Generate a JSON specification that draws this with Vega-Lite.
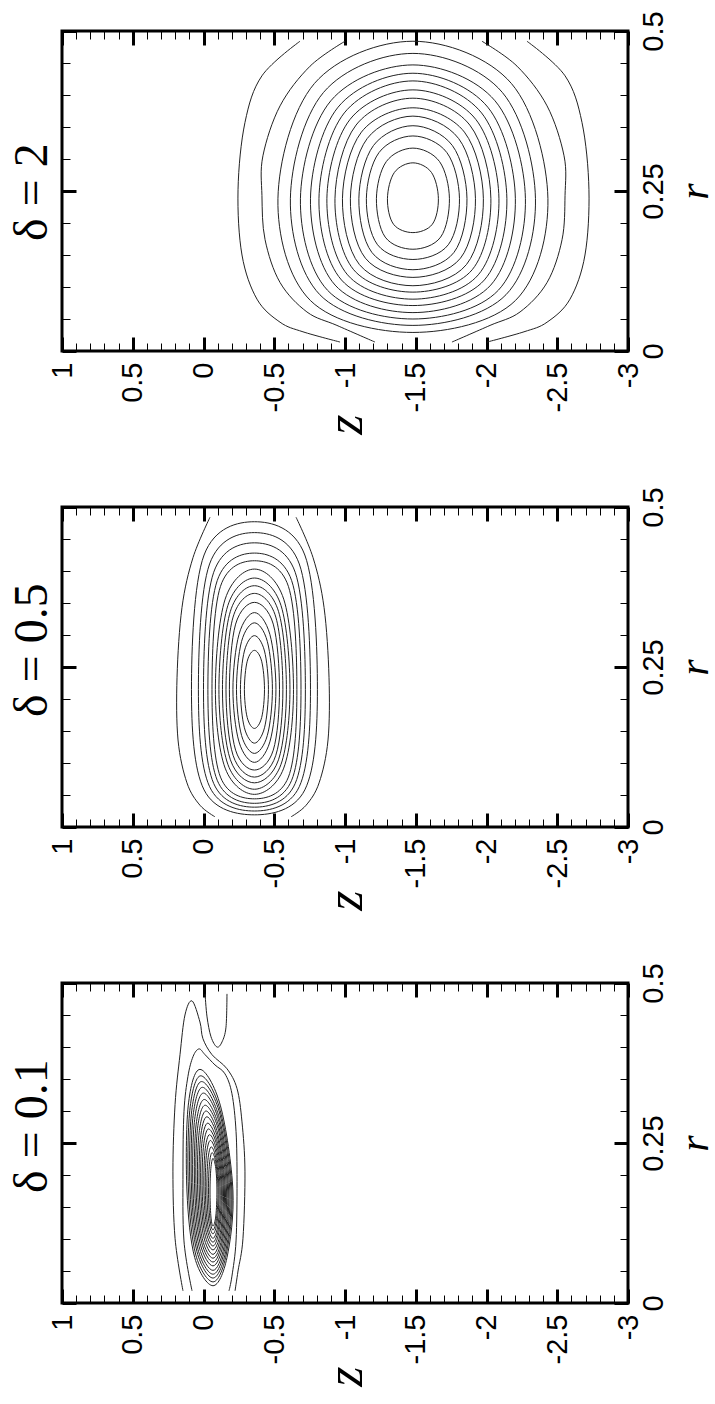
{
"$schema": "https://vega.github.io/schema/vega-lite/v6.json",
"padding": {"left": 7, "top": 9, "right": 0, "bottom": 0},
"config": {
 "view": {"stroke": "black", "strokeWidth": 3},
 "axis": {"domain": false, "grid": false, "tickColor": "black", "labelColor": "black", "labelFont": "Liberation Sans", "labelFontSize": 29, "labelFlush": false, "labelOverlap": false, "labelBound": false, "titleColor": "black"},
 "title": {"font": "Liberation Serif", "fontSize": 48, "fontWeight": "normal", "color": "black"}
},
"datasets": {
 "c1": [
  {"c":1,"i":0,"z":-1.48,"r":0.294},{"c":1,"i":1,"z":-1.349,"r":0.279},{"c":1,"i":2,"z":-1.3,"r":0.238},{"c":1,"i":3,"z":-1.343,"r":0.198},{"c":1,"i":4,"z":-1.48,"r":0.185},{"c":1,"i":5,"z":-1.617,"r":0.198},{"c":1,"i":6,"z":-1.66,"r":0.238},{"c":1,"i":7,"z":-1.611,"r":0.279},
  {"c":2,"i":0,"z":-1.48,"r":0.317},{"c":2,"i":1,"z":-1.292,"r":0.296},{"c":2,"i":2,"z":-1.222,"r":0.238},{"c":2,"i":3,"z":-1.284,"r":0.178},{"c":2,"i":4,"z":-1.48,"r":0.159},{"c":2,"i":5,"z":-1.676,"r":0.178},{"c":2,"i":6,"z":-1.738,"r":0.238},{"c":2,"i":7,"z":-1.668,"r":0.296},
  {"c":3,"i":0,"z":-1.48,"r":0.336},{"c":3,"i":1,"z":-1.24,"r":0.31},{"c":3,"i":2,"z":-1.151,"r":0.238},{"c":3,"i":3,"z":-1.23,"r":0.166},{"c":3,"i":4,"z":-1.48,"r":0.143},{"c":3,"i":5,"z":-1.73,"r":0.166},{"c":3,"i":6,"z":-1.809,"r":0.238},{"c":3,"i":7,"z":-1.72,"r":0.31},
  {"c":4,"i":0,"z":-1.48,"r":0.352},{"c":4,"i":1,"z":-1.201,"r":0.321},{"c":4,"i":2,"z":-1.098,"r":0.238},{"c":4,"i":3,"z":-1.19,"r":0.154},{"c":4,"i":4,"z":-1.48,"r":0.127},{"c":4,"i":5,"z":-1.77,"r":0.154},{"c":4,"i":6,"z":-1.862,"r":0.238},{"c":4,"i":7,"z":-1.759,"r":0.321},
  {"c":5,"i":0,"z":-1.48,"r":0.367},{"c":5,"i":1,"z":-1.157,"r":0.332},{"c":5,"i":2,"z":-1.038,"r":0.238},{"c":5,"i":3,"z":-1.144,"r":0.145},{"c":5,"i":4,"z":-1.48,"r":0.115},{"c":5,"i":5,"z":-1.816,"r":0.145},{"c":5,"i":6,"z":-1.922,"r":0.238},{"c":5,"i":7,"z":-1.803,"r":0.332},
  {"c":6,"i":0,"z":-1.48,"r":0.38},{"c":6,"i":1,"z":-1.116,"r":0.342},{"c":6,"i":2,"z":-0.982,"r":0.238},{"c":6,"i":3,"z":-1.102,"r":0.135},{"c":6,"i":4,"z":-1.48,"r":0.102},{"c":6,"i":5,"z":-1.858,"r":0.135},{"c":6,"i":6,"z":-1.978,"r":0.238},{"c":6,"i":7,"z":-1.844,"r":0.342},
  {"c":7,"i":0,"z":-1.48,"r":0.395},{"c":7,"i":1,"z":-1.078,"r":0.353},{"c":7,"i":2,"z":-0.929,"r":0.238},{"c":7,"i":3,"z":-1.061,"r":0.127},{"c":7,"i":4,"z":-1.48,"r":0.092},{"c":7,"i":5,"z":-1.899,"r":0.127},{"c":7,"i":6,"z":-2.031,"r":0.238},{"c":7,"i":7,"z":-1.882,"r":0.353},
  {"c":8,"i":0,"z":-1.48,"r":0.408},{"c":8,"i":1,"z":-1.036,"r":0.362},{"c":8,"i":2,"z":-0.872,"r":0.238},{"c":8,"i":3,"z":-1.018,"r":0.119},{"c":8,"i":4,"z":-1.48,"r":0.081},{"c":8,"i":5,"z":-1.942,"r":0.119},{"c":8,"i":6,"z":-2.088,"r":0.238},{"c":8,"i":7,"z":-1.924,"r":0.362},
  {"c":9,"i":0,"z":-1.48,"r":0.422},{"c":9,"i":1,"z":-0.995,"r":0.372},{"c":9,"i":2,"z":-0.816,"r":0.238},{"c":9,"i":3,"z":-0.975,"r":0.111},{"c":9,"i":4,"z":-1.48,"r":0.071},{"c":9,"i":5,"z":-1.985,"r":0.111},{"c":9,"i":6,"z":-2.144,"r":0.238},{"c":9,"i":7,"z":-1.965,"r":0.372},
  {"c":10,"i":0,"z":-1.48,"r":0.434},{"c":10,"i":1,"z":-0.951,"r":0.381},{"c":10,"i":2,"z":-0.756,"r":0.238},{"c":10,"i":3,"z":-0.93,"r":0.103},{"c":10,"i":4,"z":-1.48,"r":0.06},{"c":10,"i":5,"z":-2.03,"r":0.103},{"c":10,"i":6,"z":-2.204,"r":0.238},{"c":10,"i":7,"z":-2.009,"r":0.381},
  {"c":11,"i":0,"z":-1.48,"r":0.447},{"c":11,"i":1,"z":-0.9,"r":0.391},{"c":11,"i":2,"z":-0.685,"r":0.238},{"c":11,"i":3,"z":-0.876,"r":0.095},{"c":11,"i":4,"z":-1.48,"r":0.05},{"c":11,"i":5,"z":-2.084,"r":0.095},{"c":11,"i":6,"z":-2.275,"r":0.238},{"c":11,"i":7,"z":-2.06,"r":0.391},
  {"c":12,"i":0,"z":-1.48,"r":0.465},{"c":12,"i":1,"z":-0.848,"r":0.404},{"c":12,"i":2,"z":-0.614,"r":0.238},{"c":12,"i":3,"z":-0.822,"r":0.088},{"c":12,"i":4,"z":-1.48,"r":0.04},{"c":12,"i":5,"z":-2.138,"r":0.088},{"c":12,"i":6,"z":-2.346,"r":0.238},{"c":12,"i":7,"z":-2.112,"r":0.404},
  {"c":13,"i":0,"z":-1.48,"r":0.484},{"c":13,"i":1,"z":-0.784,"r":0.418},{"c":13,"i":2,"z":-0.526,"r":0.238},{"c":13,"i":3,"z":-0.755,"r":0.079},{"c":13,"i":4,"z":-1.48,"r":0.029},{"c":13,"i":5,"z":-2.205,"r":0.079},{"c":13,"i":6,"z":-2.434,"r":0.238},{"c":13,"i":7,"z":-2.176,"r":0.418}
 ],
 "o1": [
  {"c":14,"i":0,"z":-0.682,"r":0.484},{"c":14,"i":1,"z":-0.413,"r":0.43},{"c":14,"i":2,"z":-0.293,"r":0.357},{"c":14,"i":3,"z":-0.244,"r":0.252},{"c":14,"i":4,"z":-0.272,"r":0.15},{"c":14,"i":5,"z":-0.378,"r":0.081},{"c":14,"i":6,"z":-0.541,"r":0.045},{"c":14,"i":7,"z":-0.703,"r":0.03},{"c":14,"i":8,"z":-0.965,"r":0.014},
  {"c":15,"i":0,"z":-2.286,"r":0.484},{"c":15,"i":1,"z":-2.555,"r":0.43},{"c":15,"i":2,"z":-2.675,"r":0.357},{"c":15,"i":3,"z":-2.724,"r":0.252},{"c":15,"i":4,"z":-2.696,"r":0.15},{"c":15,"i":5,"z":-2.59,"r":0.081},{"c":15,"i":6,"z":-2.428,"r":0.045},{"c":15,"i":7,"z":-2.265,"r":0.03},{"c":15,"i":8,"z":-2.004,"r":0.014},
  {"c":16,"i":0,"z":-1.0,"r":0.484},{"c":16,"i":1,"z":-0.753,"r":0.445},{"c":16,"i":2,"z":-0.541,"r":0.383},{"c":16,"i":3,"z":-0.42,"r":0.305},{"c":16,"i":4,"z":-0.413,"r":0.243},{"c":16,"i":5,"z":-0.435,"r":0.174},{"c":16,"i":6,"z":-0.541,"r":0.107},{"c":16,"i":7,"z":-0.731,"r":0.061},{"c":16,"i":8,"z":-0.943,"r":0.04},{"c":16,"i":9,"z":-1.212,"r":0.014},
  {"c":17,"i":0,"z":-1.968,"r":0.484},{"c":17,"i":1,"z":-2.216,"r":0.445},{"c":17,"i":2,"z":-2.428,"r":0.383},{"c":17,"i":3,"z":-2.548,"r":0.305},{"c":17,"i":4,"z":-2.555,"r":0.243},{"c":17,"i":5,"z":-2.534,"r":0.174},{"c":17,"i":6,"z":-2.428,"r":0.107},{"c":17,"i":7,"z":-2.237,"r":0.061},{"c":17,"i":8,"z":-2.025,"r":0.04},{"c":17,"i":9,"z":-1.756,"r":0.014}
 ],
 "c2": [
  {"c":1,"i":0,"z":-0.36,"r":0.276},{"c":1,"i":1,"z":-0.309,"r":0.259},{"c":1,"i":2,"z":-0.289,"r":0.215},{"c":1,"i":3,"z":-0.309,"r":0.171},{"c":1,"i":4,"z":-0.36,"r":0.154},{"c":1,"i":5,"z":-0.411,"r":0.171},{"c":1,"i":6,"z":-0.431,"r":0.215},{"c":1,"i":7,"z":-0.411,"r":0.259},
  {"c":2,"i":0,"z":-0.36,"r":0.299},{"c":2,"i":1,"z":-0.289,"r":0.275},{"c":2,"i":2,"z":-0.261,"r":0.215},{"c":2,"i":3,"z":-0.289,"r":0.155},{"c":2,"i":4,"z":-0.36,"r":0.131},{"c":2,"i":5,"z":-0.431,"r":0.155},{"c":2,"i":6,"z":-0.459,"r":0.215},{"c":2,"i":7,"z":-0.431,"r":0.275},
  {"c":3,"i":0,"z":-0.36,"r":0.319},{"c":3,"i":1,"z":-0.269,"r":0.29},{"c":3,"i":2,"z":-0.233,"r":0.215},{"c":3,"i":3,"z":-0.269,"r":0.143},{"c":3,"i":4,"z":-0.36,"r":0.115},{"c":3,"i":5,"z":-0.451,"r":0.143},{"c":3,"i":6,"z":-0.487,"r":0.215},{"c":3,"i":7,"z":-0.451,"r":0.29},
  {"c":4,"i":0,"z":-0.36,"r":0.335},{"c":4,"i":1,"z":-0.251,"r":0.301},{"c":4,"i":2,"z":-0.208,"r":0.215},{"c":4,"i":3,"z":-0.251,"r":0.133},{"c":4,"i":4,"z":-0.36,"r":0.101},{"c":4,"i":5,"z":-0.469,"r":0.133},{"c":4,"i":6,"z":-0.512,"r":0.215},{"c":4,"i":7,"z":-0.469,"r":0.301},
  {"c":5,"i":0,"z":-0.36,"r":0.351},{"c":5,"i":1,"z":-0.227,"r":0.317},{"c":5,"i":2,"z":-0.183,"r":0.215},{"c":5,"i":3,"z":-0.227,"r":0.12},{"c":5,"i":4,"z":-0.36,"r":0.089},{"c":5,"i":5,"z":-0.493,"r":0.12},{"c":5,"i":6,"z":-0.537,"r":0.215},{"c":5,"i":7,"z":-0.493,"r":0.317},
  {"c":6,"i":0,"z":-0.36,"r":0.365},{"c":6,"i":1,"z":-0.209,"r":0.328},{"c":6,"i":2,"z":-0.159,"r":0.215},{"c":6,"i":3,"z":-0.209,"r":0.112},{"c":6,"i":4,"z":-0.36,"r":0.078},{"c":6,"i":5,"z":-0.511,"r":0.112},{"c":6,"i":6,"z":-0.561,"r":0.215},{"c":6,"i":7,"z":-0.511,"r":0.328},
  {"c":7,"i":0,"z":-0.36,"r":0.377},{"c":7,"i":1,"z":-0.19,"r":0.337},{"c":7,"i":2,"z":-0.134,"r":0.215},{"c":7,"i":3,"z":-0.19,"r":0.105},{"c":7,"i":4,"z":-0.36,"r":0.069},{"c":7,"i":5,"z":-0.53,"r":0.105},{"c":7,"i":6,"z":-0.586,"r":0.215},{"c":7,"i":7,"z":-0.53,"r":0.337},
  {"c":8,"i":0,"z":-0.36,"r":0.389},{"c":8,"i":1,"z":-0.172,"r":0.346},{"c":8,"i":2,"z":-0.109,"r":0.215},{"c":8,"i":3,"z":-0.172,"r":0.098},{"c":8,"i":4,"z":-0.36,"r":0.059},{"c":8,"i":5,"z":-0.548,"r":0.098},{"c":8,"i":6,"z":-0.611,"r":0.215},{"c":8,"i":7,"z":-0.548,"r":0.346},
  {"c":9,"i":0,"z":-0.36,"r":0.403},{"c":9,"i":1,"z":-0.153,"r":0.356},{"c":9,"i":2,"z":-0.084,"r":0.215},{"c":9,"i":3,"z":-0.153,"r":0.092},{"c":9,"i":4,"z":-0.36,"r":0.051},{"c":9,"i":5,"z":-0.567,"r":0.092},{"c":9,"i":6,"z":-0.636,"r":0.215},{"c":9,"i":7,"z":-0.567,"r":0.356},
  {"c":10,"i":0,"z":-0.36,"r":0.416},{"c":10,"i":1,"z":-0.12,"r":0.376},{"c":10,"i":2,"z":-0.06,"r":0.215},{"c":10,"i":3,"z":-0.12,"r":0.078},{"c":10,"i":4,"z":-0.36,"r":0.044},{"c":10,"i":5,"z":-0.6,"r":0.078},{"c":10,"i":6,"z":-0.66,"r":0.215},{"c":10,"i":7,"z":-0.6,"r":0.376},
  {"c":11,"i":0,"z":-0.36,"r":0.428},{"c":11,"i":1,"z":-0.097,"r":0.385},{"c":11,"i":2,"z":-0.031,"r":0.215},{"c":11,"i":3,"z":-0.097,"r":0.073},{"c":11,"i":4,"z":-0.36,"r":0.037},{"c":11,"i":5,"z":-0.623,"r":0.073},{"c":11,"i":6,"z":-0.689,"r":0.215},{"c":11,"i":7,"z":-0.623,"r":0.385},
  {"c":12,"i":0,"z":-0.36,"r":0.444},{"c":12,"i":1,"z":-0.072,"r":0.398},{"c":12,"i":2,"z":0.0,"r":0.215},{"c":12,"i":3,"z":-0.072,"r":0.068},{"c":12,"i":4,"z":-0.36,"r":0.031},{"c":12,"i":5,"z":-0.648,"r":0.068},{"c":12,"i":6,"z":-0.72,"r":0.215},{"c":12,"i":7,"z":-0.648,"r":0.398},
  {"c":13,"i":0,"z":-0.36,"r":0.46},{"c":13,"i":1,"z":-0.043,"r":0.411},{"c":13,"i":2,"z":0.036,"r":0.215},{"c":13,"i":3,"z":-0.043,"r":0.063},{"c":13,"i":4,"z":-0.36,"r":0.025},{"c":13,"i":5,"z":-0.677,"r":0.063},{"c":13,"i":6,"z":-0.756,"r":0.215},{"c":13,"i":7,"z":-0.677,"r":0.411},
  {"c":14,"i":0,"z":-0.36,"r":0.477},{"c":14,"i":1,"z":-0.004,"r":0.425},{"c":14,"i":2,"z":0.085,"r":0.215},{"c":14,"i":3,"z":-0.004,"r":0.058},{"c":14,"i":4,"z":-0.36,"r":0.019},{"c":14,"i":5,"z":-0.716,"r":0.058},{"c":14,"i":6,"z":-0.805,"r":0.215},{"c":14,"i":7,"z":-0.716,"r":0.425}
 ],
 "o2": [
  {"c":15,"i":0,"z":-0.046,"r":0.484},{"c":15,"i":1,"z":0.074,"r":0.421},{"c":15,"i":2,"z":0.152,"r":0.343},{"c":15,"i":3,"z":0.187,"r":0.234},{"c":15,"i":4,"z":0.18,"r":0.136},{"c":15,"i":5,"z":0.117,"r":0.069},{"c":15,"i":6,"z":0.025,"r":0.034},{"c":15,"i":7,"z":-0.081,"r":0.016},
  {"c":16,"i":0,"z":-0.654,"r":0.484},{"c":16,"i":1,"z":-0.774,"r":0.421},{"c":16,"i":2,"z":-0.852,"r":0.343},{"c":16,"i":3,"z":-0.887,"r":0.234},{"c":16,"i":4,"z":-0.88,"r":0.136},{"c":16,"i":5,"z":-0.817,"r":0.069},{"c":16,"i":6,"z":-0.725,"r":0.034},{"c":16,"i":7,"z":-0.619,"r":0.016}
 ],
 "c3": [
  {"c":1,"i":0,"z":-0.067,"r":0.226},{"c":1,"i":1,"z":-0.052,"r":0.21},{"c":1,"i":2,"z":-0.046,"r":0.175},{"c":1,"i":3,"z":-0.052,"r":0.136},{"c":1,"i":4,"z":-0.067,"r":0.12},{"c":1,"i":5,"z":-0.087,"r":0.136},{"c":1,"i":6,"z":-0.095,"r":0.175},{"c":1,"i":7,"z":-0.087,"r":0.21},
  {"c":2,"i":0,"z":-0.061,"r":0.235},{"c":2,"i":1,"z":-0.042,"r":0.217},{"c":2,"i":2,"z":-0.035,"r":0.175},{"c":2,"i":3,"z":-0.045,"r":0.132},{"c":2,"i":4,"z":-0.067,"r":0.114},{"c":2,"i":5,"z":-0.092,"r":0.132},{"c":2,"i":6,"z":-0.103,"r":0.175},{"c":2,"i":7,"z":-0.089,"r":0.217},
  {"c":3,"i":0,"z":-0.055,"r":0.244},{"c":3,"i":1,"z":-0.031,"r":0.223},{"c":3,"i":2,"z":-0.024,"r":0.175},{"c":3,"i":3,"z":-0.037,"r":0.128},{"c":3,"i":4,"z":-0.067,"r":0.108},{"c":3,"i":5,"z":-0.097,"r":0.128},{"c":3,"i":6,"z":-0.11,"r":0.175},{"c":3,"i":7,"z":-0.091,"r":0.223},
  {"c":4,"i":0,"z":-0.049,"r":0.254},{"c":4,"i":1,"z":-0.02,"r":0.23},{"c":4,"i":2,"z":-0.013,"r":0.175},{"c":4,"i":3,"z":-0.029,"r":0.123},{"c":4,"i":4,"z":-0.067,"r":0.101},{"c":4,"i":5,"z":-0.103,"r":0.123},{"c":4,"i":6,"z":-0.118,"r":0.175},{"c":4,"i":7,"z":-0.093,"r":0.23},
  {"c":5,"i":0,"z":-0.043,"r":0.263},{"c":5,"i":1,"z":-0.01,"r":0.236},{"c":5,"i":2,"z":-0.003,"r":0.175},{"c":5,"i":3,"z":-0.022,"r":0.119},{"c":5,"i":4,"z":-0.067,"r":0.095},{"c":5,"i":5,"z":-0.108,"r":0.119},{"c":5,"i":6,"z":-0.126,"r":0.175},{"c":5,"i":7,"z":-0.096,"r":0.236},
  {"c":6,"i":0,"z":-0.036,"r":0.272},{"c":6,"i":1,"z":0.001,"r":0.243},{"c":6,"i":2,"z":0.009,"r":0.175},{"c":6,"i":3,"z":-0.014,"r":0.115},{"c":6,"i":4,"z":-0.067,"r":0.089},{"c":6,"i":5,"z":-0.113,"r":0.115},{"c":6,"i":6,"z":-0.133,"r":0.175},{"c":6,"i":7,"z":-0.098,"r":0.243},
  {"c":7,"i":0,"z":-0.03,"r":0.281},{"c":7,"i":1,"z":0.012,"r":0.249},{"c":7,"i":2,"z":0.019,"r":0.175},{"c":7,"i":3,"z":-0.007,"r":0.11},{"c":7,"i":4,"z":-0.067,"r":0.083},{"c":7,"i":5,"z":-0.119,"r":0.11},{"c":7,"i":6,"z":-0.141,"r":0.175},{"c":7,"i":7,"z":-0.1,"r":0.249},
  {"c":8,"i":0,"z":-0.024,"r":0.291},{"c":8,"i":1,"z":0.022,"r":0.256},{"c":8,"i":2,"z":0.03,"r":0.175},{"c":8,"i":3,"z":0.001,"r":0.106},{"c":8,"i":4,"z":-0.067,"r":0.076},{"c":8,"i":5,"z":-0.124,"r":0.106},{"c":8,"i":6,"z":-0.148,"r":0.175},{"c":8,"i":7,"z":-0.102,"r":0.256},
  {"c":9,"i":0,"z":-0.018,"r":0.3},{"c":9,"i":1,"z":0.033,"r":0.262},{"c":9,"i":2,"z":0.041,"r":0.175},{"c":9,"i":3,"z":0.009,"r":0.101},{"c":9,"i":4,"z":-0.067,"r":0.07},{"c":9,"i":5,"z":-0.129,"r":0.101},{"c":9,"i":6,"z":-0.155,"r":0.175},{"c":9,"i":7,"z":-0.104,"r":0.262},
  {"c":10,"i":0,"z":-0.012,"r":0.309},{"c":10,"i":1,"z":0.044,"r":0.269},{"c":10,"i":2,"z":0.052,"r":0.175},{"c":10,"i":3,"z":0.016,"r":0.097},{"c":10,"i":4,"z":-0.067,"r":0.064},{"c":10,"i":5,"z":-0.134,"r":0.097},{"c":10,"i":6,"z":-0.163,"r":0.175},{"c":10,"i":7,"z":-0.107,"r":0.269},
  {"c":11,"i":0,"z":-0.006,"r":0.318},{"c":11,"i":1,"z":0.054,"r":0.275},{"c":11,"i":2,"z":0.062,"r":0.175},{"c":11,"i":3,"z":0.024,"r":0.093},{"c":11,"i":4,"z":-0.067,"r":0.058},{"c":11,"i":5,"z":-0.14,"r":0.093},{"c":11,"i":6,"z":-0.171,"r":0.175},{"c":11,"i":7,"z":-0.109,"r":0.275},
  {"c":12,"i":0,"z":0.0,"r":0.328},{"c":12,"i":1,"z":0.065,"r":0.282},{"c":12,"i":2,"z":0.074,"r":0.175},{"c":12,"i":3,"z":0.031,"r":0.088},{"c":12,"i":4,"z":-0.067,"r":0.051},{"c":12,"i":5,"z":-0.145,"r":0.088},{"c":12,"i":6,"z":-0.178,"r":0.175},{"c":12,"i":7,"z":-0.111,"r":0.282},
  {"c":13,"i":0,"z":0.007,"r":0.337},{"c":13,"i":1,"z":0.076,"r":0.288},{"c":13,"i":2,"z":0.084,"r":0.175},{"c":13,"i":3,"z":0.039,"r":0.084},{"c":13,"i":4,"z":-0.067,"r":0.045},{"c":13,"i":5,"z":-0.15,"r":0.084},{"c":13,"i":6,"z":-0.186,"r":0.175},{"c":13,"i":7,"z":-0.113,"r":0.288},
  {"c":14,"i":0,"z":0.013,"r":0.346},{"c":14,"i":1,"z":0.086,"r":0.295},{"c":14,"i":2,"z":0.095,"r":0.175},{"c":14,"i":3,"z":0.046,"r":0.08},{"c":14,"i":4,"z":-0.067,"r":0.039},{"c":14,"i":5,"z":-0.156,"r":0.08},{"c":14,"i":6,"z":-0.194,"r":0.175},{"c":14,"i":7,"z":-0.116,"r":0.295},
  {"c":15,"i":0,"z":0.019,"r":0.355},{"c":15,"i":1,"z":0.097,"r":0.301},{"c":15,"i":2,"z":0.106,"r":0.175},{"c":15,"i":3,"z":0.054,"r":0.075},{"c":15,"i":4,"z":-0.067,"r":0.033},{"c":15,"i":5,"z":-0.16,"r":0.075},{"c":15,"i":6,"z":-0.201,"r":0.175},{"c":15,"i":7,"z":-0.118,"r":0.301},
  {"c":16,"i":0,"z":0.025,"r":0.365},{"c":16,"i":1,"z":0.108,"r":0.308},{"c":16,"i":2,"z":0.117,"r":0.175},{"c":16,"i":3,"z":0.062,"r":0.071},{"c":16,"i":4,"z":-0.067,"r":0.027},{"c":16,"i":5,"z":-0.166,"r":0.071},{"c":16,"i":6,"z":-0.208,"r":0.175},{"c":16,"i":7,"z":-0.12,"r":0.308}
 ],
 "o3": [
  {"c":17,"i":0,"z":0.081,"r":0.019},{"c":17,"i":1,"z":0.138,"r":0.097},{"c":17,"i":2,"z":0.145,"r":0.206},{"c":17,"i":3,"z":0.138,"r":0.299},{"c":17,"i":4,"z":0.11,"r":0.354},{"c":17,"i":5,"z":0.074,"r":0.385},{"c":17,"i":6,"z":0.032,"r":0.397},{"c":17,"i":7,"z":-0.011,"r":0.388},{"c":17,"i":8,"z":-0.081,"r":0.372},{"c":17,"i":9,"z":-0.152,"r":0.358},{"c":17,"i":10,"z":-0.201,"r":0.327},{"c":17,"i":11,"z":-0.23,"r":0.268},{"c":17,"i":12,"z":-0.237,"r":0.19},{"c":17,"i":13,"z":-0.23,"r":0.097},{"c":17,"i":14,"z":-0.201,"r":0.042},{"c":17,"i":15,"z":-0.18,"r":0.019},
  {"c":18,"i":0,"z":0.145,"r":0.019},{"c":18,"i":1,"z":0.201,"r":0.101},{"c":18,"i":2,"z":0.216,"r":0.206},{"c":18,"i":3,"z":0.201,"r":0.31},{"c":18,"i":4,"z":0.166,"r":0.388},{"c":18,"i":5,"z":0.131,"r":0.45},{"c":18,"i":6,"z":0.081,"r":0.472},{"c":18,"i":7,"z":0.025,"r":0.439},{"c":18,"i":8,"z":0.004,"r":0.413},{"c":18,"i":9,"z":-0.06,"r":0.388},{"c":18,"i":10,"z":-0.166,"r":0.366},{"c":18,"i":11,"z":-0.237,"r":0.335},{"c":18,"i":12,"z":-0.272,"r":0.283},{"c":18,"i":13,"z":-0.293,"r":0.206},{"c":18,"i":14,"z":-0.279,"r":0.101},{"c":18,"i":15,"z":-0.244,"r":0.05},{"c":18,"i":16,"z":-0.223,"r":0.019},
  {"c":19,"i":0,"z":-0.011,"r":0.483},{"c":19,"i":1,"z":-0.025,"r":0.447},{"c":19,"i":2,"z":-0.053,"r":0.416},{"c":19,"i":3,"z":-0.095,"r":0.4},{"c":19,"i":4,"z":-0.131,"r":0.408},{"c":19,"i":5,"z":-0.159,"r":0.431},{"c":19,"i":6,"z":-0.166,"r":0.483}
 ]
},
"vconcat": [
 {
  "width": 566, "height": 320,
  "title": {"text": "δ = 2", "orient": "left", "anchor": "start", "frame": "group", "offset": -9, "dx": 110},
  "layer": [
   {"data": {"name": "c1"}, "mark": {"type": "line", "interpolate": "cardinal-closed", "color": "#222", "strokeWidth": 1, "clip": true},
    "encoding": {
     "x": {"field": "z", "type": "quantitative", "scale": {"domain": [1, -3], "nice": false, "zero": false},
      "axis": {"orient": "bottom", "values": [1,0.9,0.8,0.7,0.6,0.5,0.4,0.3,0.2,0.1,0,-0.1,-0.2,-0.3,-0.4,-0.5,-0.6,-0.7,-0.8,-0.9,-1,-1.1,-1.2,-1.3,-1.4,-1.5,-1.6,-1.7,-1.8,-1.9,-2,-2.1,-2.2,-2.3,-2.4,-2.5,-2.6,-2.7,-2.8,-2.9,-3],
       "labelExpr": "abs(datum.value*2-round(datum.value*2))<0.001 ? ''+datum.value : ''",
       "labelAngle": 270, "labelAlign": "right", "labelBaseline": "middle", "labelPadding": 25,
       "tickSize": {"condition": {"test": "abs(datum.value*2-round(datum.value*2))<0.001", "value": -14}, "value": -8},
       "tickWidth": {"condition": {"test": "abs(datum.value*2-round(datum.value*2))<0.001", "value": 3}, "value": 1},
       "title": "z", "titleAngle": 270, "titleAlign": "right", "titleBaseline": "middle", "titlePadding": 2,
       "titleFont": "Liberation Serif", "titleFontStyle": "italic", "titleFontWeight": "normal", "titleFontSize": 52}},
     "y": {"field": "r", "type": "quantitative", "scale": {"domain": [0, 0.5], "nice": false, "zero": false},
      "axis": {"orient": "right", "values": [0,0.05,0.1,0.15,0.2,0.25,0.3,0.35,0.4,0.45,0.5],
       "labelExpr": "abs(datum.value*4-round(datum.value*4))<0.001 ? ''+datum.value : ''",
       "labelAngle": 270, "labelAlign": "center", "labelBaseline": "top", "labelPadding": 25,
       "tickSize": {"condition": {"test": "abs(datum.value*4-round(datum.value*4))<0.001", "value": -14}, "value": -8},
       "tickWidth": {"condition": {"test": "abs(datum.value*4-round(datum.value*4))<0.001", "value": 3}, "value": 1},
       "title": "r", "titleAngle": 270, "titleAlign": "center", "titleBaseline": "top", "titlePadding": 0,
       "titleFont": "Liberation Serif", "titleFontStyle": "italic", "titleFontWeight": "normal", "titleFontSize": 42}},
     "detail": {"field": "c", "type": "nominal"},
     "order": {"field": "i", "type": "quantitative"}
    }},
   {"data": {"name": "o1"}, "mark": {"type": "line", "interpolate": "cardinal", "color": "#222", "strokeWidth": 1, "clip": true},
    "encoding": {
     "x": {"field": "z", "type": "quantitative", "scale": {"domain": [1, -3], "nice": false, "zero": false},
      "axis": {"orient": "top", "values": [1,0.9,0.8,0.7,0.6,0.5,0.4,0.3,0.2,0.1,0,-0.1,-0.2,-0.3,-0.4,-0.5,-0.6,-0.7,-0.8,-0.9,-1,-1.1,-1.2,-1.3,-1.4,-1.5,-1.6,-1.7,-1.8,-1.9,-2,-2.1,-2.2,-2.3,-2.4,-2.5,-2.6,-2.7,-2.8,-2.9,-3],
       "labels": false, "title": null,
       "tickSize": {"condition": {"test": "abs(datum.value*2-round(datum.value*2))<0.001", "value": -14}, "value": -8},
       "tickWidth": {"condition": {"test": "abs(datum.value*2-round(datum.value*2))<0.001", "value": 3}, "value": 1}}},
     "y": {"field": "r", "type": "quantitative", "scale": {"domain": [0, 0.5], "nice": false, "zero": false},
      "axis": {"orient": "left", "values": [0,0.05,0.1,0.15,0.2,0.25,0.3,0.35,0.4,0.45,0.5],
       "labels": false, "title": null,
       "tickSize": {"condition": {"test": "abs(datum.value*4-round(datum.value*4))<0.001", "value": -14}, "value": -8},
       "tickWidth": {"condition": {"test": "abs(datum.value*4-round(datum.value*4))<0.001", "value": 3}, "value": 1}}},
     "detail": {"field": "c", "type": "nominal"},
     "order": {"field": "i", "type": "quantitative"}
    }}
  ],
  "resolve": {"axis": {"x": "independent", "y": "independent"}}
 },
 {
  "width": 566, "height": 320,
  "title": {"text": "δ = 0.5", "orient": "left", "anchor": "start", "frame": "group", "offset": -9, "dx": 110},
  "layer": [
   {"data": {"name": "c2"}, "mark": {"type": "line", "interpolate": "cardinal-closed", "color": "#222", "strokeWidth": 1, "clip": true},
    "encoding": {
     "x": {"field": "z", "type": "quantitative", "scale": {"domain": [1, -3], "nice": false, "zero": false},
      "axis": {"orient": "bottom", "values": [1,0.9,0.8,0.7,0.6,0.5,0.4,0.3,0.2,0.1,0,-0.1,-0.2,-0.3,-0.4,-0.5,-0.6,-0.7,-0.8,-0.9,-1,-1.1,-1.2,-1.3,-1.4,-1.5,-1.6,-1.7,-1.8,-1.9,-2,-2.1,-2.2,-2.3,-2.4,-2.5,-2.6,-2.7,-2.8,-2.9,-3],
       "labelExpr": "abs(datum.value*2-round(datum.value*2))<0.001 ? ''+datum.value : ''",
       "labelAngle": 270, "labelAlign": "right", "labelBaseline": "middle", "labelPadding": 25,
       "tickSize": {"condition": {"test": "abs(datum.value*2-round(datum.value*2))<0.001", "value": -14}, "value": -8},
       "tickWidth": {"condition": {"test": "abs(datum.value*2-round(datum.value*2))<0.001", "value": 3}, "value": 1},
       "title": "z", "titleAngle": 270, "titleAlign": "right", "titleBaseline": "middle", "titlePadding": 2,
       "titleFont": "Liberation Serif", "titleFontStyle": "italic", "titleFontWeight": "normal", "titleFontSize": 52}},
     "y": {"field": "r", "type": "quantitative", "scale": {"domain": [0, 0.5], "nice": false, "zero": false},
      "axis": {"orient": "right", "values": [0,0.05,0.1,0.15,0.2,0.25,0.3,0.35,0.4,0.45,0.5],
       "labelExpr": "abs(datum.value*4-round(datum.value*4))<0.001 ? ''+datum.value : ''",
       "labelAngle": 270, "labelAlign": "center", "labelBaseline": "top", "labelPadding": 25,
       "tickSize": {"condition": {"test": "abs(datum.value*4-round(datum.value*4))<0.001", "value": -14}, "value": -8},
       "tickWidth": {"condition": {"test": "abs(datum.value*4-round(datum.value*4))<0.001", "value": 3}, "value": 1},
       "title": "r", "titleAngle": 270, "titleAlign": "center", "titleBaseline": "top", "titlePadding": 0,
       "titleFont": "Liberation Serif", "titleFontStyle": "italic", "titleFontWeight": "normal", "titleFontSize": 42}},
     "detail": {"field": "c", "type": "nominal"},
     "order": {"field": "i", "type": "quantitative"}
    }},
   {"data": {"name": "o2"}, "mark": {"type": "line", "interpolate": "cardinal", "color": "#222", "strokeWidth": 1, "clip": true},
    "encoding": {
     "x": {"field": "z", "type": "quantitative", "scale": {"domain": [1, -3], "nice": false, "zero": false},
      "axis": {"orient": "top", "values": [1,0.9,0.8,0.7,0.6,0.5,0.4,0.3,0.2,0.1,0,-0.1,-0.2,-0.3,-0.4,-0.5,-0.6,-0.7,-0.8,-0.9,-1,-1.1,-1.2,-1.3,-1.4,-1.5,-1.6,-1.7,-1.8,-1.9,-2,-2.1,-2.2,-2.3,-2.4,-2.5,-2.6,-2.7,-2.8,-2.9,-3],
       "labels": false, "title": null,
       "tickSize": {"condition": {"test": "abs(datum.value*2-round(datum.value*2))<0.001", "value": -14}, "value": -8},
       "tickWidth": {"condition": {"test": "abs(datum.value*2-round(datum.value*2))<0.001", "value": 3}, "value": 1}}},
     "y": {"field": "r", "type": "quantitative", "scale": {"domain": [0, 0.5], "nice": false, "zero": false},
      "axis": {"orient": "left", "values": [0,0.05,0.1,0.15,0.2,0.25,0.3,0.35,0.4,0.45,0.5],
       "labels": false, "title": null,
       "tickSize": {"condition": {"test": "abs(datum.value*4-round(datum.value*4))<0.001", "value": -14}, "value": -8},
       "tickWidth": {"condition": {"test": "abs(datum.value*4-round(datum.value*4))<0.001", "value": 3}, "value": 1}}},
     "detail": {"field": "c", "type": "nominal"},
     "order": {"field": "i", "type": "quantitative"}
    }}
  ],
  "resolve": {"axis": {"x": "independent", "y": "independent"}}
 },
 {
  "width": 566, "height": 320,
  "title": {"text": "δ = 0.1", "orient": "left", "anchor": "start", "frame": "group", "offset": -9, "dx": 110},
  "layer": [
   {"data": {"name": "c3"}, "mark": {"type": "line", "interpolate": "cardinal-closed", "color": "#222", "strokeWidth": 1, "clip": true},
    "encoding": {
     "x": {"field": "z", "type": "quantitative", "scale": {"domain": [1, -3], "nice": false, "zero": false},
      "axis": {"orient": "bottom", "values": [1,0.9,0.8,0.7,0.6,0.5,0.4,0.3,0.2,0.1,0,-0.1,-0.2,-0.3,-0.4,-0.5,-0.6,-0.7,-0.8,-0.9,-1,-1.1,-1.2,-1.3,-1.4,-1.5,-1.6,-1.7,-1.8,-1.9,-2,-2.1,-2.2,-2.3,-2.4,-2.5,-2.6,-2.7,-2.8,-2.9,-3],
       "labelExpr": "abs(datum.value*2-round(datum.value*2))<0.001 ? ''+datum.value : ''",
       "labelAngle": 270, "labelAlign": "right", "labelBaseline": "middle", "labelPadding": 25,
       "tickSize": {"condition": {"test": "abs(datum.value*2-round(datum.value*2))<0.001", "value": -14}, "value": -8},
       "tickWidth": {"condition": {"test": "abs(datum.value*2-round(datum.value*2))<0.001", "value": 3}, "value": 1},
       "title": "z", "titleAngle": 270, "titleAlign": "right", "titleBaseline": "middle", "titlePadding": 2,
       "titleFont": "Liberation Serif", "titleFontStyle": "italic", "titleFontWeight": "normal", "titleFontSize": 52}},
     "y": {"field": "r", "type": "quantitative", "scale": {"domain": [0, 0.5], "nice": false, "zero": false},
      "axis": {"orient": "right", "values": [0,0.05,0.1,0.15,0.2,0.25,0.3,0.35,0.4,0.45,0.5],
       "labelExpr": "abs(datum.value*4-round(datum.value*4))<0.001 ? ''+datum.value : ''",
       "labelAngle": 270, "labelAlign": "center", "labelBaseline": "top", "labelPadding": 25,
       "tickSize": {"condition": {"test": "abs(datum.value*4-round(datum.value*4))<0.001", "value": -14}, "value": -8},
       "tickWidth": {"condition": {"test": "abs(datum.value*4-round(datum.value*4))<0.001", "value": 3}, "value": 1},
       "title": "r", "titleAngle": 270, "titleAlign": "center", "titleBaseline": "top", "titlePadding": 0,
       "titleFont": "Liberation Serif", "titleFontStyle": "italic", "titleFontWeight": "normal", "titleFontSize": 42}},
     "detail": {"field": "c", "type": "nominal"},
     "order": {"field": "i", "type": "quantitative"}
    }},
   {"data": {"name": "o3"}, "mark": {"type": "line", "interpolate": "cardinal", "color": "#222", "strokeWidth": 1, "clip": true},
    "encoding": {
     "x": {"field": "z", "type": "quantitative", "scale": {"domain": [1, -3], "nice": false, "zero": false},
      "axis": {"orient": "top", "values": [1,0.9,0.8,0.7,0.6,0.5,0.4,0.3,0.2,0.1,0,-0.1,-0.2,-0.3,-0.4,-0.5,-0.6,-0.7,-0.8,-0.9,-1,-1.1,-1.2,-1.3,-1.4,-1.5,-1.6,-1.7,-1.8,-1.9,-2,-2.1,-2.2,-2.3,-2.4,-2.5,-2.6,-2.7,-2.8,-2.9,-3],
       "labels": false, "title": null,
       "tickSize": {"condition": {"test": "abs(datum.value*2-round(datum.value*2))<0.001", "value": -14}, "value": -8},
       "tickWidth": {"condition": {"test": "abs(datum.value*2-round(datum.value*2))<0.001", "value": 3}, "value": 1}}},
     "y": {"field": "r", "type": "quantitative", "scale": {"domain": [0, 0.5], "nice": false, "zero": false},
      "axis": {"orient": "left", "values": [0,0.05,0.1,0.15,0.2,0.25,0.3,0.35,0.4,0.45,0.5],
       "labels": false, "title": null,
       "tickSize": {"condition": {"test": "abs(datum.value*4-round(datum.value*4))<0.001", "value": -14}, "value": -8},
       "tickWidth": {"condition": {"test": "abs(datum.value*4-round(datum.value*4))<0.001", "value": 3}, "value": 1}}},
     "detail": {"field": "c", "type": "nominal"},
     "order": {"field": "i", "type": "quantitative"}
    }}
  ],
  "resolve": {"axis": {"x": "independent", "y": "independent"}}
 }
],
"spacing": 156,
"bounds": "flush"
}
